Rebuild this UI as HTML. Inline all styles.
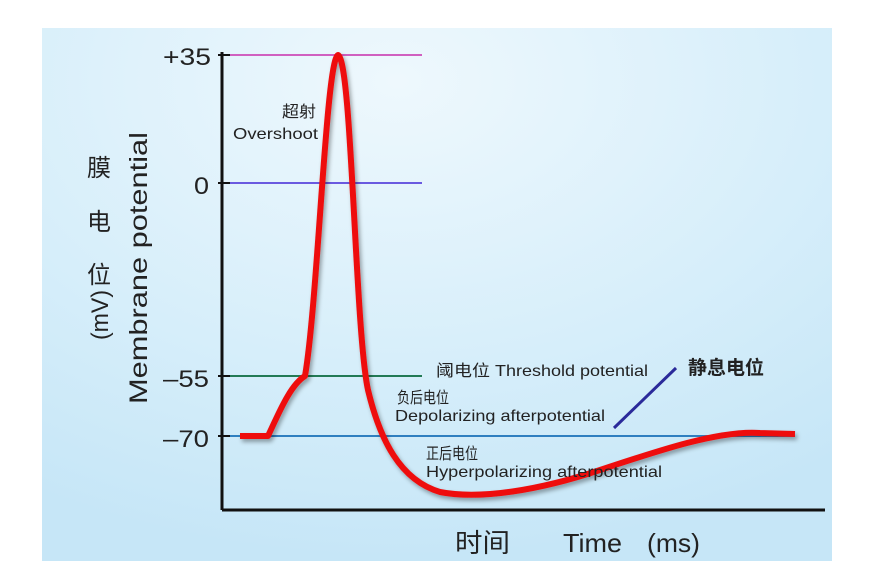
<!DOCTYPE html>
<html><head><meta charset="utf-8"><style>
body{margin:0;width:879px;height:561px;background:#fff;overflow:hidden}
svg{display:block}
text{font-family:"Liberation Sans","Noto Sans CJK SC",sans-serif;fill:#222}
</style></head><body>
<svg width="879" height="561" viewBox="0 0 879 561">
<defs>
<radialGradient id="bg" cx="0.45" cy="0.1" r="0.9">
<stop offset="0" stop-color="#eef8fd"/><stop offset="0.6" stop-color="#d6eefa"/><stop offset="1" stop-color="#c6e6f7"/>
</radialGradient>
<filter id="sh"><feDropShadow dx="2" dy="3" stdDeviation="2" flood-color="#000" flood-opacity="0.35"/></filter>
</defs>
<rect x="42" y="28" width="790" height="533" fill="url(#bg)"/>
<line x1="230" y1="55" x2="422" y2="55" stroke="#d060c0" stroke-width="2"/>
<line x1="230" y1="183" x2="422" y2="183" stroke="#6a5ae0" stroke-width="2"/>
<line x1="230" y1="376" x2="422" y2="376" stroke="#227a55" stroke-width="2"/>
<line x1="230" y1="436" x2="795" y2="436" stroke="#2f7fc0" stroke-width="2"/>
<line x1="222" y1="52" x2="222" y2="510" stroke="#111" stroke-width="3"/>
<line x1="222" y1="510" x2="825" y2="510" stroke="#111" stroke-width="3"/>
<g stroke="#111" stroke-width="2"><line x1="218" y1="55" x2="230" y2="55"/><line x1="218" y1="183" x2="230" y2="183"/><line x1="218" y1="376" x2="230" y2="376"/><line x1="218" y1="436" x2="230" y2="436"/></g>
<g font-size="24" fill="#111">
<text x="163" y="65" textLength="48" lengthAdjust="spacingAndGlyphs">+35</text>
<text x="194" y="194" textLength="15" lengthAdjust="spacingAndGlyphs">0</text>
<text x="163" y="387" textLength="46" lengthAdjust="spacingAndGlyphs">–55</text>
<text x="163" y="447" textLength="46" lengthAdjust="spacingAndGlyphs">–70</text>
</g>
<g font-size="24" text-anchor="middle" fill="#111">
<text x="99" y="176">膜</text><text x="99" y="230">电</text><text x="99" y="283">位</text>
</g>
<text transform="translate(108,340) rotate(-90)" font-size="24" fill="#111" textLength="50" lengthAdjust="spacingAndGlyphs">(mV)</text>
<text transform="translate(147,404) rotate(-90)" font-size="25" fill="#111" textLength="272" lengthAdjust="spacingAndGlyphs">Membrane potential</text>
<path filter="url(#sh)" d="M240,436 L268,436 C278,415 290,385 305,376 C318,300 326,60 338,55 C352,60 355,330 368,390 C380,440 400,480 440,492 C480,500 540,490 600,470 C660,450 720,430 760,433 L795,434" fill="none" stroke="#ee1111" stroke-width="6" stroke-linejoin="round"/>
<g font-size="16" fill="#333">
<text x="282" y="117" textLength="34" lengthAdjust="spacingAndGlyphs">超射</text>
<text x="233" y="139" textLength="85" lengthAdjust="spacingAndGlyphs">Overshoot</text>
<text x="436" y="376" textLength="212" lengthAdjust="spacingAndGlyphs">阈电位 Threshold potential</text>
<text x="397" y="403" textLength="52" lengthAdjust="spacingAndGlyphs">负后电位</text>
<text x="395" y="421" textLength="210" lengthAdjust="spacingAndGlyphs">Depolarizing afterpotential</text>
<text x="426" y="459" textLength="52" lengthAdjust="spacingAndGlyphs">正后电位</text>
<text x="426" y="477" textLength="236" lengthAdjust="spacingAndGlyphs">Hyperpolarizing afterpotential</text>
</g>
<line x1="614" y1="428" x2="676" y2="368" stroke="#2a2a9a" stroke-width="3"/>
<text x="688" y="374" font-size="19" font-weight="bold" fill="#000">静息电位</text>
<g font-size="26" fill="#111">
<text x="455" y="552" textLength="55" lengthAdjust="spacingAndGlyphs">时间</text>
<text x="563" y="552" textLength="59" lengthAdjust="spacingAndGlyphs">Time</text>
<text x="647" y="552" textLength="53" lengthAdjust="spacingAndGlyphs">(ms)</text>
</g>
</svg>
</body></html>
